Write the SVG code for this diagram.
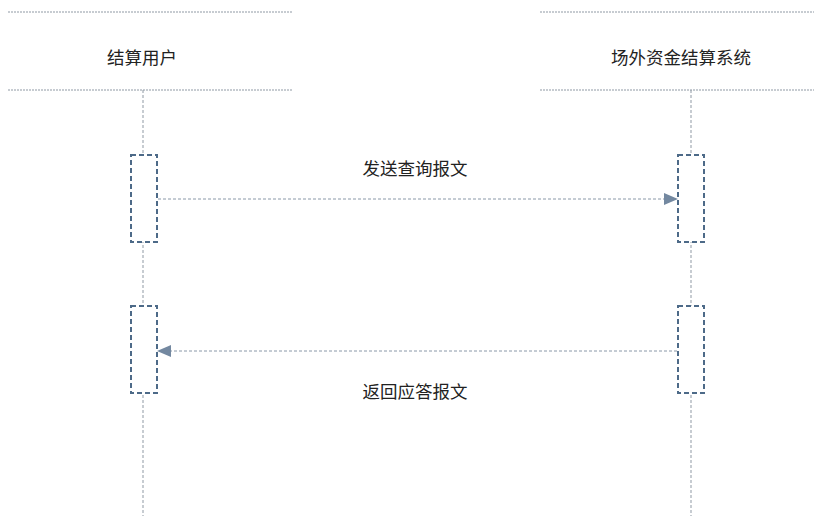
<svg xmlns="http://www.w3.org/2000/svg" width="814" height="516" viewBox="0 0 814 516">
<style>
.hdr{stroke:#8f99a4;stroke-width:1;stroke-dasharray:2 1;fill:none}
.life{stroke:#8f99a4;stroke-width:1;stroke-dasharray:3 2;fill:none}
.act{fill:#ffffff;stroke:#4d6a88;stroke-width:2;stroke-dasharray:5 3}
.msg{stroke:#8a98a8;stroke-width:1;stroke-dasharray:3 2;fill:none}
text{font-family:"Noto Sans CJK SC","Noto Sans CJK JP",sans-serif;font-size:17.5px;fill:#222;text-anchor:middle}
</style>
<defs>
<marker id="ah" markerWidth="14" markerHeight="12" refX="14" refY="6" orient="auto" markerUnits="userSpaceOnUse">
<path d="M0,0 L14,6 L0,12 Z" fill="#7388a0"/>
</marker>
</defs>
<rect width="814" height="516" fill="#ffffff"/>
<g id="user">
<line class="hdr" x1="8" y1="12" x2="293" y2="12"/>
<line class="hdr" x1="8" y1="90" x2="293" y2="90"/>
<text x="142" y="64">结算用户</text>
<line class="life" x1="143" y1="90" x2="143" y2="516"/>
<rect class="act" x="131" y="155" width="26" height="87"/>
<rect class="act" x="131" y="306" width="26" height="87"/>
</g>
<g id="system">
<line class="hdr" x1="540" y1="12" x2="814" y2="12"/>
<line class="hdr" x1="540" y1="90" x2="814" y2="90"/>
<text x="681" y="64">场外资金结算系统</text>
<line class="life" x1="691" y1="90" x2="691" y2="516"/>
<rect class="act" x="678" y="155" width="26" height="87"/>
<rect class="act" x="678" y="306" width="26" height="87"/>
</g>
<g id="connectors">
<line class="msg" x1="158" y1="199" x2="678" y2="199" marker-end="url(#ah)"/>
<text x="415" y="175">发送查询报文</text>
<line class="msg" x1="677" y1="351" x2="157" y2="351" marker-end="url(#ah)"/>
<text x="415" y="398">返回应答报文</text>
</g>
</svg>
